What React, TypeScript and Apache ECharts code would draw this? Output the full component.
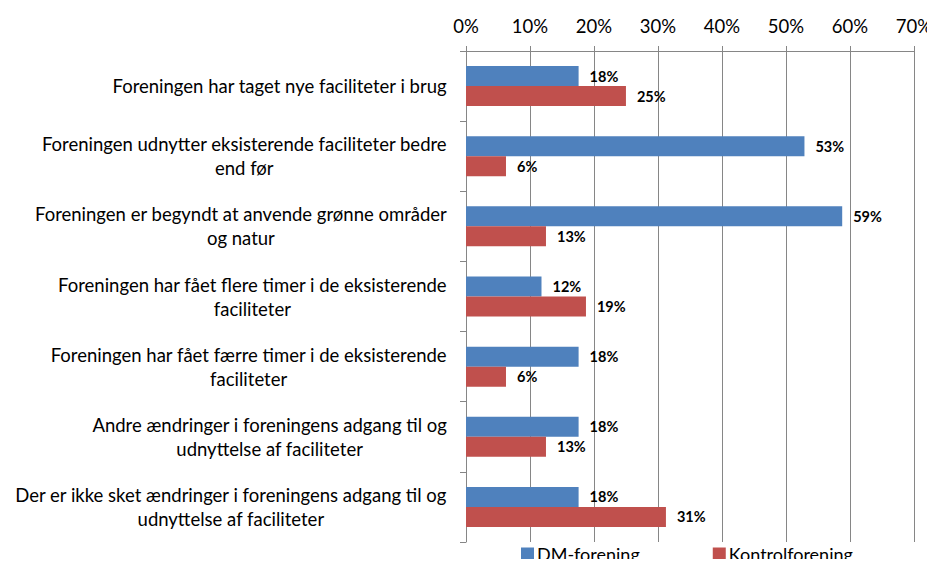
import React, { useEffect, useRef } from "react";
import * as echarts from "echarts";

const categories = [
  "Foreningen har taget nye faciliteter i brug",
  "Foreningen udnytter eksisterende faciliteter bedre\nend før",
  "Foreningen er begyndt at anvende grønne områder\nog natur",
  "Foreningen har fået flere timer i de eksisterende\nfaciliteter",
  "Foreningen har fået færre timer i de eksisterende\nfaciliteter",
  "Andre ændringer i foreningens adgang til og\nudnyttelse af faciliteter",
  "Der er ikke sket ændringer i foreningens adgang til og\nudnyttelse af faciliteter",
];
const dmValues = [17.6, 52.9, 58.8, 11.8, 17.6, 17.6, 17.6];
const kontrolValues = [25, 6.25, 12.5, 18.75, 6.25, 12.5, 31.25];
const seriesNames = ["DM-forening", "Kontrolforening"];
const axisTicks = { min: 0, max: 70, interval: 10 };

const FONT = "Lato";

export default function App() {
  const ref = useRef<HTMLDivElement>(null);
  useEffect(() => {
    if (!ref.current) return;
    const chart = echarts.init(ref.current, null, { renderer: "svg" });
    const labelStyle = {
      show: true,
      position: "right",
      distance: 11,
      fontFamily: FONT,
      fontSize: 14.5,
      fontWeight: "bold",
      color: "#000",
      formatter: (p: any) => Math.round(p.value) + "%",
    };
    chart.setOption({
      animation: false,
      textStyle: { fontFamily: FONT },
      grid: { left: 466, right: 18, top: 51, bottom: 25, containLabel: false },
      legend: {
        left: 521,
        top: 545,
        padding: 0,
        itemWidth: 13,
        itemHeight: 13,
        itemGap: 73,
        icon: "rect",
        textStyle: { fontFamily: FONT, fontSize: 18, color: "#000", padding: [0, 0, 0, -2] },
        data: seriesNames,
      },
      xAxis: {
        type: "value",
        position: "top",
        min: axisTicks.min,
        max: axisTicks.max,
        interval: axisTicks.interval,
        axisLine: { show: true, lineStyle: { color: "#868686", width: 1 } },
        axisTick: { show: true, length: 5, lineStyle: { color: "#868686" } },
        axisLabel: {
          formatter: "{value}%",
          fontFamily: FONT,
          fontSize: 18.5,
          color: "#000",
          margin: 16,
        },
        splitLine: { show: true, lineStyle: { color: "#868686", width: 1 } },
      },
      yAxis: {
        type: "category",
        inverse: true,
        data: categories,
        axisLine: { show: true, lineStyle: { color: "#868686" } },
        axisTick: { show: true, length: 6, lineStyle: { color: "#868686" } },
        axisLabel: {
          margin: 19,
          align: "right",
          formatter: (v: string) =>
            v
              .split("\n")
              .map((l) => "{c|" + l + "}")
              .join("\n"),
          rich: {
            c: {
              align: "center",
              fontFamily: FONT,
              fontSize: 18.5,
              color: "#000",
              lineHeight: 24,
            },
          },
        },
      },
      series: [
        {
          name: seriesNames[0],
          type: "bar",
          data: dmValues,
          itemStyle: { color: "#4F81BD" },
          barGap: "0%",
          barCategoryGap: "43%",
          label: labelStyle,
        },
        {
          name: seriesNames[1],
          type: "bar",
          data: kontrolValues,
          itemStyle: { color: "#C0504D" },
          barGap: "0%",
          barCategoryGap: "43%",
          label: labelStyle,
        },
      ],
    });
    return () => chart.dispose();
  }, []);
  return <div ref={ref} style={{ width: 935, height: 567, margin: -8 }} />;
}
